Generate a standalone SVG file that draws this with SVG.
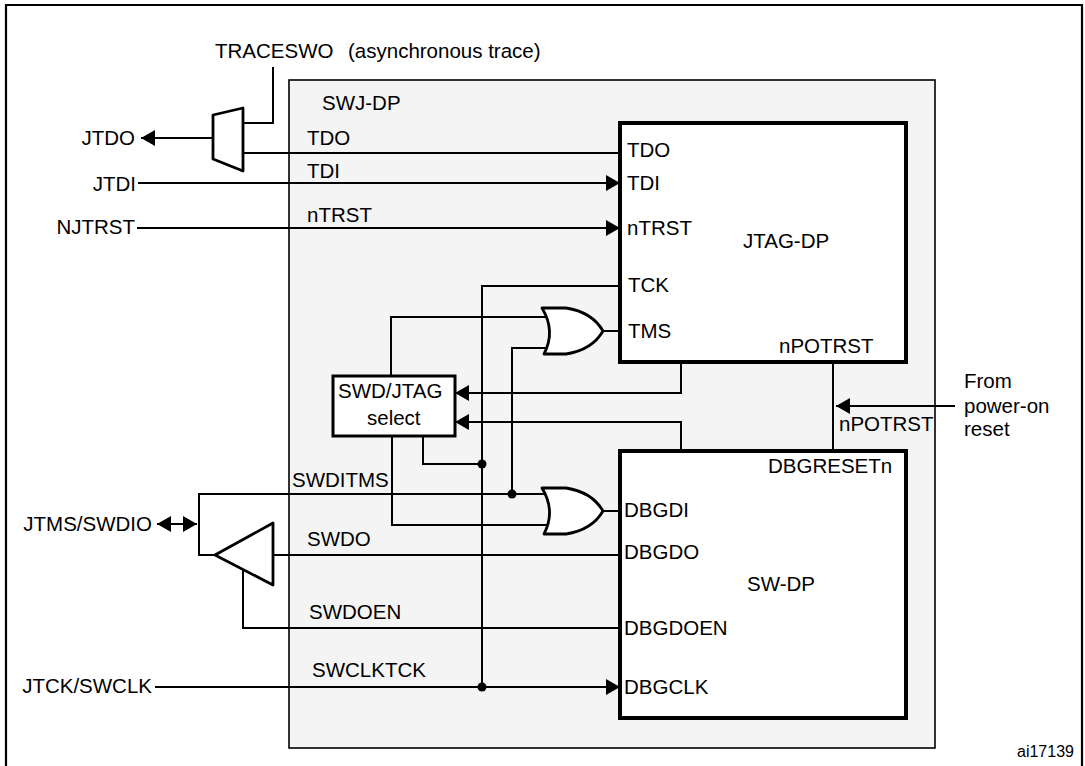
<svg xmlns="http://www.w3.org/2000/svg" width="1085" height="766" viewBox="0 0 1085 766">
<style>
text{font-family:"Liberation Sans",Arial,sans-serif;font-size:20.5px;fill:#000}
.end{text-anchor:end}
.small{font-size:16px}
.w{fill:none;stroke:#000;stroke-width:2}
.blk{fill:#fff;stroke:#000;stroke-width:4}
.sel{fill:#fff;stroke:#000;stroke-width:3}
.gate{fill:#fff;stroke:#000;stroke-width:2.8;stroke-linejoin:round}
.dot{fill:#000}
</style>
<defs>
<marker id="ah" markerUnits="userSpaceOnUse" markerWidth="14" markerHeight="16" refX="14" refY="8" orient="auto-start-reverse" viewBox="0 0 14 16">
<path d="M0,0 L14,8 L0,16 Z" fill="#000"/>
</marker>
<path id="org" d="M0,0 H24 Q50,4 61,23 Q50,42 24,46 H2 Q14,23 0,0 Z"/>
</defs>
<rect width="1085" height="766" fill="#fff"/>
<path d="M6,770 V5 H1082 V770" fill="none" stroke="#000" stroke-width="2.2"/>

<g id="swj-dp">
<rect x="289" y="80" width="646" height="668" fill="#f4f4f4" stroke="#000" stroke-width="1.6"/>
<text x="322" y="110">SWJ-DP</text>
</g>

<g id="connectors">
<path class="w" d="M273,67 V123 H243"/>
<path class="w" d="M243,153 H620"/>
<path class="w" d="M213,138 H141" marker-end="url(#ah)"/>
<path class="w" d="M138,183 H620" marker-end="url(#ah)"/>
<path class="w" d="M137,228 H620" marker-end="url(#ah)"/>
<path class="w" d="M620,286 H482 V687"/>
<path class="w" d="M603,331 H620"/>
<path class="w" d="M552,317 H391 V376"/>
<path class="w" d="M552,348 H512 V494"/>
<path class="w" d="M681,362 V393 H455" marker-end="url(#ah)"/>
<path class="w" d="M681,451 V422 H455" marker-end="url(#ah)"/>
<path class="w" d="M423,436 V464 H482"/>
<path class="w" d="M392,436 V525 H552"/>
<path class="w" d="M552,494 H199 V555 H215"/>
<path class="w" d="M157,524 H197" marker-start="url(#ah)" marker-end="url(#ah)"/>
<path class="w" d="M273,555 H620"/>
<path class="w" d="M243,570 V628 H620"/>
<path class="w" d="M155,687 H620" marker-end="url(#ah)"/>
<path class="w" d="M603,511 H620"/>
<path class="w" d="M833,362 V451"/>
<path class="w" d="M955,406 H836" marker-end="url(#ah)"/>
<circle class="dot" cx="482" cy="464" r="4.5"/>
<circle class="dot" cx="512" cy="494" r="4.5"/>
<circle class="dot" cx="482" cy="687" r="4.5"/>
</g>

<g id="labels">
<text x="215" y="58">TRACESWO</text>
<text x="348" y="58">(asynchronous trace)</text>
<text class="end" x="135" y="145">JTDO</text>
<text x="307" y="145">TDO</text>
<text x="307" y="178">TDI</text>
<text class="end" x="136" y="191">JTDI</text>
<text x="307" y="222">nTRST</text>
<text class="end" x="135" y="234">NJTRST</text>
<text x="292" y="487">SWDITMS</text>
<text class="end" x="152" y="531">JTMS/SWDIO</text>
<text x="307" y="546">SWDO</text>
<text x="309" y="619">SWDOEN</text>
<text x="312" y="677">SWCLKTCK</text>
<text class="end" x="152" y="693">JTCK/SWCLK</text>
<text x="839" y="431">nPOTRST</text>
<text x="964" y="388">From</text>
<text x="964" y="413">power-on</text>
<text x="964" y="436">reset</text>
<text class="small" x="1017" y="757">ai17139</text>
</g>

<g id="mux">
<polygon points="213,115 243,108 243,171 213,159" class="gate" stroke-width="3"/>
</g>

<g id="buffer">
<polygon points="215,555 273,523 273,585" class="gate" stroke-width="3"/>
</g>

<g id="or-tms">
<use href="#org" class="gate" transform="translate(542,308)"/>
</g>

<g id="or-dbgdi">
<use href="#org" class="gate" transform="translate(542,488)"/>
</g>

<g id="swd-jtag-select">
<rect class="sel" x="333" y="376" width="122" height="60"/>
<text x="338" y="398">SWD/JTAG</text>
<text x="367" y="425">select</text>
</g>

<g id="jtag-dp">
<rect class="blk" x="620" y="123" width="286" height="239"/>
<text x="627" y="157">TDO</text>
<text x="627" y="190">TDI</text>
<text x="627" y="235">nTRST</text>
<text x="743" y="248">JTAG-DP</text>
<text x="628" y="292">TCK</text>
<text x="628" y="338">TMS</text>
<text x="779" y="353">nPOTRST</text>
</g>

<g id="sw-dp">
<rect class="blk" x="620" y="451" width="286" height="267"/>
<text x="768" y="473">DBGRESETn</text>
<text x="624" y="517">DBGDI</text>
<text x="624" y="559">DBGDO</text>
<text x="747" y="591">SW-DP</text>
<text x="624" y="635">DBGDOEN</text>
<text x="624" y="694">DBGCLK</text>
</g>
</svg>
